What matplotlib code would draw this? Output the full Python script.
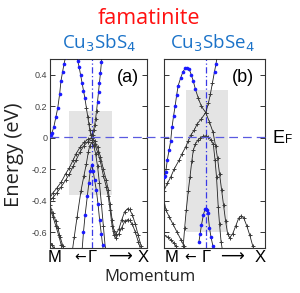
import matplotlib
matplotlib.use('Agg')
import matplotlib.pyplot as plt
import numpy as np
from matplotlib.lines import Line2D
from matplotlib.patches import Rectangle

# ---------------- data (path coordinate: M=0, X=1) ----------------
a_gamma = 0.43
b_gamma = 0.413

# panel (a) Cu3SbS4
a_bandM_x = [0.0, 0.01, 0.02, 0.04, 0.06, 0.08, 0.10, 0.113, 0.13, 0.145, 0.16, 0.17]
a_bandM_E = [0.01, 0.015, 0.03, 0.07, 0.13, 0.19, 0.28, 0.36, 0.42, 0.47, 0.51, 0.54]

a_cb_x = [0.275, 0.285, 0.30, 0.315, 0.33, 0.345, 0.36, 0.375, 0.39, 0.40, 0.41, 0.42, 0.43,
          0.44, 0.45, 0.46, 0.47, 0.48, 0.49, 0.50, 0.51, 0.52, 0.53, 0.54]
a_cb_E = [0.52, 0.49, 0.45, 0.40, 0.35, 0.30, 0.25, 0.19, 0.13, 0.09, 0.05, 0.02, 0.0,
          0.02, 0.05, 0.08, 0.12, 0.17, 0.23, 0.29, 0.35, 0.41, 0.48, 0.53]

a_hh1_x = [0.0, 0.03, 0.07, 0.117, 0.16, 0.20, 0.24, 0.27, 0.31, 0.35, 0.39, 0.43,
           0.46, 0.49, 0.52, 0.55, 0.58, 0.60, 0.62, 0.64, 0.66, 0.68, 0.71, 0.74, 0.77,
           0.80, 0.82, 0.85, 0.88, 0.91, 0.94, 0.97]
a_hh1_E = [-0.38, -0.35, -0.32, -0.28, -0.23, -0.19, -0.14, -0.10, -0.06, -0.03, -0.01, 0.0,
           -0.02, -0.06, -0.12, -0.20, -0.27, -0.33, -0.42, -0.52, -0.59, -0.61, -0.58, -0.52, -0.47,
           -0.45, -0.455, -0.49, -0.55, -0.62, -0.69, -0.76]
a_hh2_E = [-0.40, -0.38, -0.35, -0.31, -0.27, -0.23, -0.18, -0.14, -0.09, -0.05, -0.025, -0.015,
           -0.04, -0.09, -0.15, -0.24, -0.31, -0.37, -0.46, -0.56, -0.62, -0.635, -0.61, -0.57, -0.53,
           -0.52, -0.525, -0.55, -0.60, -0.66, -0.72, -0.78]

a_lh_x = [0.232, 0.25, 0.28, 0.32, 0.35, 0.375, 0.395, 0.41, 0.43, 0.45, 0.47, 0.49, 0.51, 0.53, 0.55, 0.57]
a_lh_E = [-0.71, -0.63, -0.50, -0.335, -0.24, -0.165, -0.09, -0.05, -0.03, -0.05, -0.10, -0.18, -0.29, -0.42, -0.56, -0.70]

a_so_x = [0.33, 0.345, 0.362, 0.385, 0.40, 0.415, 0.43, 0.445, 0.46, 0.477, 0.495, 0.512, 0.529, 0.542, 0.55]
a_so_E = [-0.72, -0.60, -0.49, -0.37, -0.29, -0.21, -0.17, -0.21, -0.27, -0.33, -0.42, -0.525, -0.61, -0.68, -0.72]

a_low1_x = [0.0, 0.03, 0.06, 0.08, 0.105, 0.134, 0.15]
a_low1_E = [-0.43, -0.48, -0.53, -0.57, -0.63, -0.69, -0.72]
a_low2_x = [0.0, 0.03, 0.06, 0.09, 0.115, 0.13]
a_low2_E = [-0.45, -0.50, -0.56, -0.62, -0.68, -0.72]
a_low3_x = [0.0, 0.02, 0.04, 0.06]
a_low3_E = [-0.67, -0.68, -0.70, -0.72]

# panel (b) Cu3SbSe4
b_hump_x = [0.0, 0.008, 0.017, 0.033, 0.05, 0.066, 0.08, 0.095, 0.11, 0.125, 0.14, 0.165, 0.188,
            0.21, 0.23, 0.25, 0.27, 0.29, 0.31, 0.34, 0.37, 0.413, 0.45, 0.485, 0.51, 0.53, 0.55,
            0.57, 0.59, 0.61, 0.63, 0.65, 0.68, 0.71, 0.74, 0.765, 0.79, 0.82, 0.85, 0.88, 0.91]
b_hump_E = [-0.25, -0.24, -0.22, -0.14, -0.08, -0.02, 0.07, 0.14, 0.20, 0.27, 0.33, 0.38, 0.42,
            0.44, 0.445, 0.435, 0.40, 0.36, 0.31, 0.25, 0.20, 0.16, 0.10, 0.036, -0.05, -0.13, -0.23,
            -0.33, -0.43, -0.53, -0.61, -0.635, -0.61, -0.56, -0.51, -0.495, -0.51, -0.56, -0.62, -0.69, -0.75]

b_cross_x = [0.0, 0.033, 0.066, 0.10, 0.148, 0.18, 0.214, 0.24, 0.264, 0.30, 0.33, 0.37, 0.413,
             0.44, 0.46, 0.48, 0.50, 0.515, 0.53]
b_cross_E = [-0.335, -0.29, -0.25, -0.20, -0.144, -0.10, -0.06, -0.02, 0.015, 0.05, 0.09, 0.12, 0.16,
             0.22, 0.28, 0.35, 0.42, 0.47, 0.53]

b_dome_x = [0.19, 0.205, 0.22, 0.24, 0.257, 0.275, 0.29, 0.31, 0.335, 0.36, 0.39, 0.413, 0.44,
            0.465, 0.488, 0.505, 0.52, 0.537, 0.55, 0.565, 0.58]
b_dome_E = [-0.69, -0.57, -0.46, -0.34, -0.25, -0.15, -0.08, -0.04, -0.015, 0.0, 0.01, 0.012, 0.005,
            -0.015, -0.04, -0.14, -0.25, -0.44, -0.55, -0.66, -0.72]

b_so_x = [0.346, 0.358, 0.37, 0.39, 0.405, 0.413, 0.425, 0.435, 0.45, 0.465, 0.485, 0.495]
b_so_E = [-0.66, -0.61, -0.557, -0.49, -0.455, -0.45, -0.46, -0.48, -0.57, -0.63, -0.69, -0.72]

b_low1_x = [0.0, 0.02, 0.05, 0.09, 0.13, 0.17, 0.20, 0.22]
b_low1_E = [-0.40, -0.46, -0.50, -0.55, -0.60, -0.65, -0.69, -0.72]
b_low2_x = [0.0, 0.035, 0.07, 0.10, 0.12, 0.14]
b_low2_E = [-0.62, -0.63, -0.65, -0.67, -0.69, -0.72]

yticks = [-0.6, -0.4, -0.2, 0, 0.2, 0.4]
ytick_labels = ['-0.6', '-0.4', '-0.2', '0', '0.2', '0.4']
title = 'famatinite'
compounds = ['Cu$_3$SbS$_4$', 'Cu$_3$SbSe$_4$']
panel_labels = ['(a)', '(b)']

# ---------------- drawing ----------------
W, H = 300, 293
fig = plt.figure(figsize=(3.0, 2.93), dpi=100)

def fx(x):
    return x / W

def fy(y):
    return 1 - y / H

BLUE = '#1a1aff'
LINEC = '#222222'
MARKC = '#3a3a3a'

def band(ax, x, e, blue=None):
    x = np.asarray(x, float)
    e = np.asarray(e, float)
    ax.plot(x, e, '-', color=LINEC, lw=0.6, zorder=3)
    if blue is None:
        blue = np.zeros(len(x), bool)
    blue = np.asarray(blue, bool)
    ax.plot(x[~blue], e[~blue], '+', color=MARKC, ms=3.2, mew=0.7, zorder=4, ls='none')
    ax.plot(x[blue], e[blue], 'o', color=BLUE, ms=2.6, mew=0, zorder=5, ls='none')

axA = fig.add_axes([fx(50), fy(248), fx(97), (248 - 59) / H])
axB = fig.add_axes([fx(164), fy(248), fx(101), (248 - 59) / H])

for ax, g in [(axA, a_gamma), (axB, b_gamma)]:
    ax.set_xlim(0, 1)
    ax.set_ylim(-0.7, 0.5)
    ax.set_xticks([])
    ax.set_yticks(yticks)
    ax.tick_params(axis='y', direction='in', length=3.5, width=0.7, left=True, right=True,
                   labelsize=6.5, labelcolor='#444444', color='#333333', pad=2)
    for s in ax.spines.values():
        s.set_color('#333333')
        s.set_linewidth(0.8)
    ax.axvline(g, color='#3a3ae6', lw=0.9, ls=(0, (5, 2, 1, 2)), zorder=2)

axA.set_yticklabels(ytick_labels, family='Liberation Sans')
axB.set_yticklabels([])

axA.add_patch(Rectangle((0.196, -0.366), 0.636 - 0.196, 0.167 + 0.366, color='#e4e4e4', lw=0, zorder=1))
axB.add_patch(Rectangle((0.218, -0.60), 0.637 - 0.218, 0.305 + 0.60, color='#e4e4e4', lw=0, zorder=1))

# panel (a)
band(axA, a_bandM_x, a_bandM_E, blue=[True] * len(a_bandM_x))
band(axA, a_cb_x, a_cb_E, blue=[e >= 0.2 for e in a_cb_E])
band(axA, a_hh1_x, a_hh1_E)
band(axA, a_hh1_x, a_hh2_E)
band(axA, a_lh_x, a_lh_E)
band(axA, a_so_x, a_so_E, blue=[True] * len(a_so_x))
band(axA, a_low1_x, a_low1_E)
band(axA, a_low2_x, a_low2_E)
band(axA, a_low3_x, a_low3_E)

# panel (b)
band(axB, b_hump_x, b_hump_E, blue=[x <= 0.31 for x in b_hump_x])
band(axB, b_cross_x, b_cross_E, blue=[e >= 0.4 for e in b_cross_E])
band(axB, b_dome_x, b_dome_E)
band(axB, b_so_x, b_so_E, blue=[True] * len(b_so_x))
band(axB, b_low1_x, b_low1_E)
band(axB, b_low2_x, b_low2_E)

# Fermi level dashed line
fig.add_artist(Line2D([fx(50), fx(265)], [fy(137.3), fy(137.3)], color='#5a5ae0', lw=0.9,
                      ls=(0, (7, 4)), zorder=6))

# texts
fig.text(fx(149), fy(18), title, color='#ff1010', fontsize=15.5, family='Open Sans',
         ha='center', va='center')
fig.text(fx(99), fy(43), compounds[0], color='#1a72c8', fontsize=13.5, family='Open Sans',
         ha='center', va='center')
fig.text(fx(212), fy(43), compounds[1], color='#1a72c8', fontsize=13.5, family='Open Sans',
         ha='center', va='center')
fig.text(fx(128), fy(78), panel_labels[0], fontsize=13, family='Liberation Sans', ha='center', va='center')
fig.text(fx(243), fy(78), panel_labels[1], fontsize=13, family='Liberation Sans', ha='center', va='center')
fig.text(fx(14), fy(155), 'Energy (eV)', fontsize=14.5, family='Open Sans', rotation=90,
         ha='center', va='center', color='#222222')
fig.text(fx(150), fy(277), 'Momentum', fontsize=12, family='Open Sans', ha='center', va='center',
         color='#222222')
fig.text(fx(272), fy(143), 'E', fontsize=13, family='Liberation Sans', ha='left', va='baseline')
fig.text(fx(285), fy(143), 'F', fontsize=8.5, family='Liberation Sans', ha='left', va='baseline')

# k-path labels
for (m, arl, gm, arr, xx) in [(55, 80, 91.7, 120, 143.5), (171.5, 190, 206, 232, 260)]:
    fig.text(fx(m), fy(257), 'M', fontsize=12, family='Liberation Sans', ha='center', va='center')
    fig.text(fx(gm), fy(257), 'Γ', fontsize=12, family='Liberation Sans', ha='center', va='center')
    fig.text(fx(xx), fy(257), 'X', fontsize=12, family='Liberation Sans', ha='center', va='center')
    fig.text(fx(arl), fy(257), '←', fontsize=10, family='DejaVu Sans', ha='center', va='center')
    fig.text(fx(arr), fy(257), '⟶', fontsize=12, family='DejaVu Sans', ha='center', va='center')

fig.savefig('out.png', dpi=100)
